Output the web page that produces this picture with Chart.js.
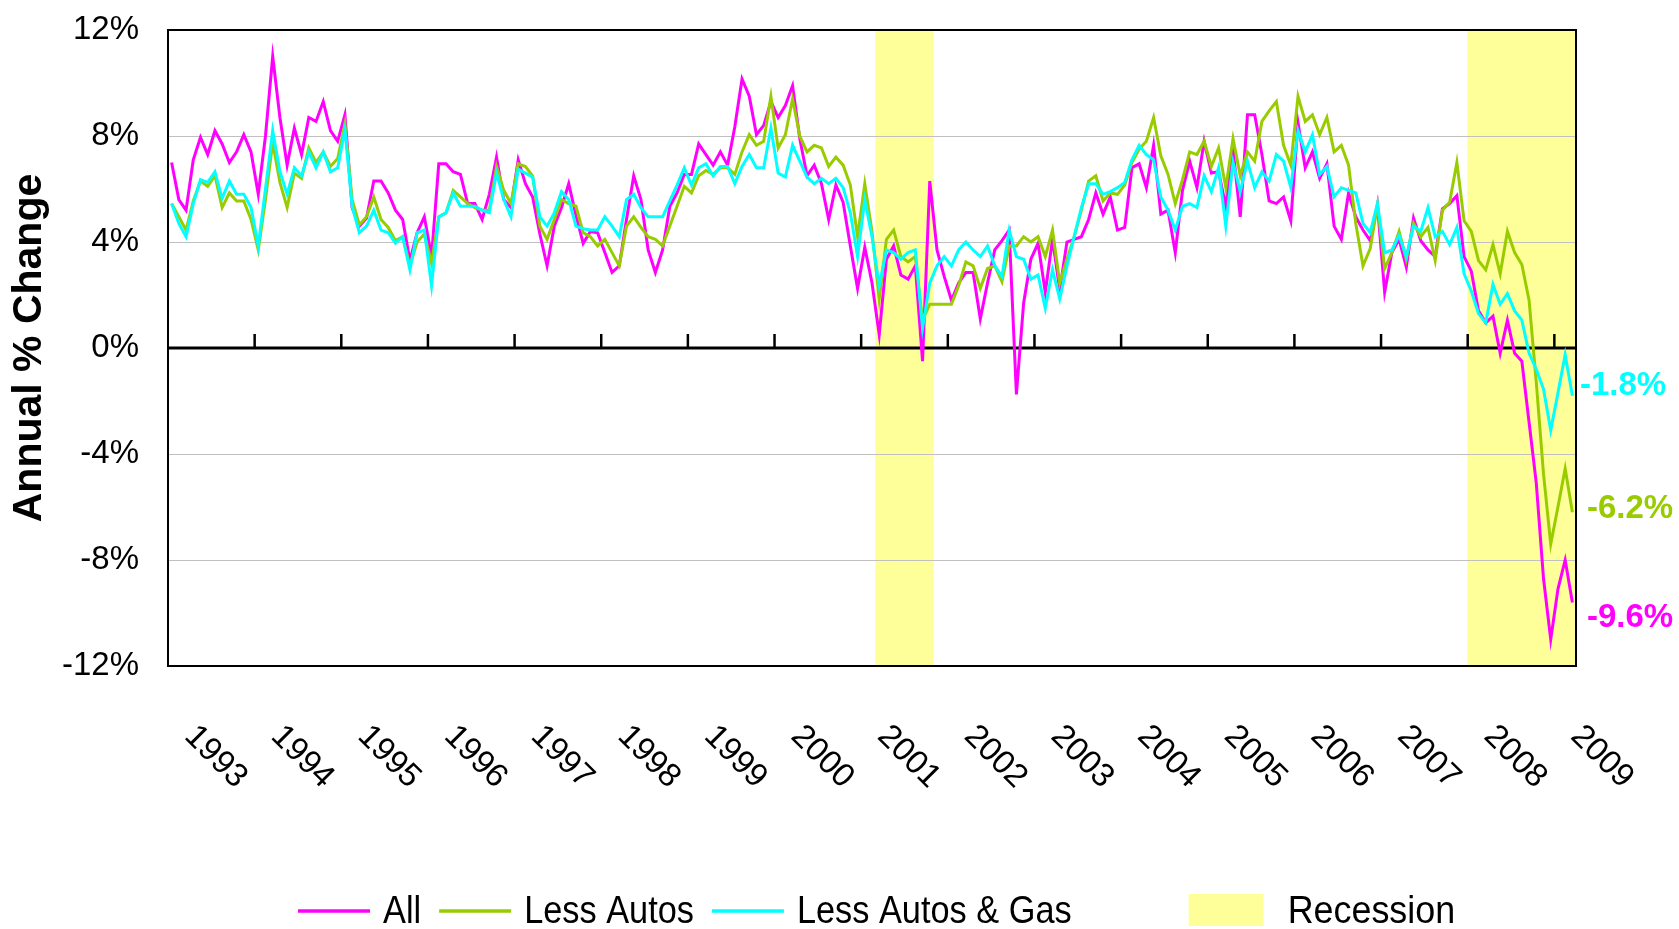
<!DOCTYPE html>
<html>
<head>
<meta charset="utf-8">
<script src="https://cdn.jsdelivr.net/npm/chart.js@4.4.1/dist/chart.umd.min.js"></script>
<style>
html, body { margin: 0; padding: 0; background: #fff; }
#caja { width: 1679px; height: 929px; position: relative; }
</style>
</head>
<body>
<div id="caja"><canvas id="graficaventas"></canvas></div>
<script>
// monthly categories, Jan 1993 .. Mar 2009
var months = [];
for (var i = 0; i < 195; i++) {
    var yr = 1993 + Math.floor(i / 12), mo = (i % 12) + 1;
    months.push(yr + '-' + (mo < 10 ? '0' : '') + mo);
}

var allSales = [
    7.0, 5.6, 5.2, 7.1, 7.95, 7.3, 8.2, 7.7, 7.0, 7.4, 8.05, 7.4,
    5.8, 8.0, 11.0, 8.7, 6.9, 8.3, 7.3, 8.7, 8.55, 9.3, 8.2, 7.8,
    8.8, 5.3, 4.6, 4.9, 6.3, 6.3, 5.85, 5.2, 4.85, 3.3, 4.35, 4.95,
    3.45, 6.95, 6.95, 6.65, 6.55, 5.45, 5.45, 4.85, 5.8, 7.2, 5.6, 5.3,
    7.1, 6.2, 5.7, 4.3, 3.1, 4.6, 5.3, 6.2, 5.0, 3.95, 4.4, 4.35,
    3.6, 2.85, 3.1, 4.85, 6.5, 5.6, 3.7, 2.85, 3.7, 5.35, 5.85, 6.55,
    6.55, 7.7, 7.3, 6.9, 7.4, 6.9, 8.35, 10.15, 9.5, 8.05, 8.4, 9.3,
    8.7, 9.15, 9.9, 7.9, 6.5, 6.9, 6.2, 4.85, 6.15, 5.5, 3.85, 2.25,
    3.8, 2.45, 0.5, 3.35, 3.85, 2.75, 2.6, 3.1, -0.5, 6.3, 3.7, 2.7,
    1.8, 2.45, 2.85, 2.85, 1.1, 2.45, 3.7, 4.05, 4.45, -1.75, 1.7, 3.35,
    3.95, 2.1, 4.1, 2.2, 4.0, 4.1, 4.2, 4.85, 5.85, 5.05, 5.7, 4.45,
    4.55, 6.8, 6.95, 6.05, 7.65, 5.05, 5.2, 3.6, 5.95, 7.05, 6.05, 7.8,
    6.6, 6.65, 5.35, 7.5, 4.95, 8.8, 8.8, 7.3, 5.55, 5.45, 5.7, 4.8,
    8.5, 6.8, 7.4, 6.4, 6.95, 4.6, 4.1, 5.85, 4.95, 4.45, 4.05, 5.4,
    2.1, 3.6, 4.1, 3.05, 4.9, 4.05, 3.7, 3.45, 5.25, 5.45, 5.75, 3.45,
    2.9, 1.4, 0.95, 1.2, -0.2, 1.05, -0.2, -0.5, -2.8, -5.1, -8.7, -11.0,
    -9.1, -8.0, -9.6
];

var lessAutos = [
    5.45, 4.95, 4.45, 5.55, 6.3, 6.1, 6.5, 5.3, 5.85, 5.55, 5.55, 4.85,
    3.7, 5.6, 7.75, 6.25, 5.3, 6.6, 6.4, 7.55, 7.0, 7.4, 6.85, 7.15,
    8.45, 5.6, 4.65, 4.95, 5.7, 4.85, 4.55, 4.05, 4.2, 3.1, 4.0, 4.3,
    3.2, 4.95, 5.1, 5.95, 5.7, 5.45, 5.3, 5.2, 5.2, 6.85, 5.95, 5.45,
    6.95, 6.85, 6.5, 4.6, 4.1, 4.85, 5.6, 5.45, 5.35, 4.35, 4.2, 3.85,
    4.1, 3.6, 3.1, 4.6, 4.95, 4.55, 4.2, 4.1, 3.85, 4.6, 5.35, 6.1,
    5.85, 6.5, 6.7, 6.55, 6.8, 6.8, 6.55, 7.4, 8.05, 7.65, 7.8, 9.5,
    7.55, 8.05, 9.4, 8.0, 7.4, 7.65, 7.55, 6.85, 7.2, 6.9, 6.15, 4.2,
    6.2, 4.4, 1.85, 4.1, 4.45, 3.45, 3.25, 3.45, 1.05, 1.65, 1.65, 1.65,
    1.65, 2.35, 3.25, 3.1, 2.25, 3.0, 3.1, 2.5, 3.85, 3.85, 4.2, 4.0,
    4.2, 3.45, 4.45, 2.45, 3.35, 4.2, 5.2, 6.3, 6.5, 5.55, 5.85, 5.8,
    6.15, 7.0, 7.5, 7.8, 8.7, 7.25, 6.55, 5.45, 6.35, 7.4, 7.3, 7.8,
    6.85, 7.55, 6.05, 7.9, 6.5, 7.4, 7.05, 8.55, 8.95, 9.3, 7.65, 6.9,
    9.5, 8.55, 8.8, 8.05, 8.7, 7.4, 7.65, 6.9, 4.7, 3.1, 3.75, 5.4,
    3.0, 3.6, 4.4, 3.35, 4.7, 4.2, 4.55, 3.3, 5.2, 5.5, 7.0, 4.8,
    4.4, 3.3, 2.95, 3.9, 2.8, 4.4, 3.6, 3.15, 1.8, -1.3, -4.75, -7.4,
    -6.0, -4.55, -6.2
];

var lessAutosGas = [
    5.45, 4.7, 4.2, 5.45, 6.35, 6.25, 6.65, 5.65, 6.3, 5.8, 5.8, 5.3,
    3.85, 6.0, 8.2, 6.65, 5.8, 6.8, 6.5, 7.4, 6.8, 7.4, 6.65, 6.8,
    8.25, 5.35, 4.35, 4.6, 5.2, 4.45, 4.35, 3.95, 4.2, 2.95, 4.35, 4.45,
    2.35, 4.95, 5.1, 5.85, 5.35, 5.35, 5.35, 5.2, 5.1, 6.6, 5.6, 4.95,
    6.75, 6.6, 6.45, 4.95, 4.6, 5.1, 5.9, 5.6, 4.6, 4.5, 4.45, 4.45,
    4.95, 4.6, 4.2, 5.6, 5.8, 5.3, 4.95, 4.95, 4.95, 5.55, 6.15, 6.8,
    6.15, 6.8, 6.95, 6.5, 6.85, 6.85, 6.2, 6.85, 7.3, 6.8, 6.8, 8.3,
    6.6, 6.45, 7.65, 7.05, 6.45, 6.2, 6.4, 6.2, 6.4, 6.05, 5.1, 3.45,
    5.6, 4.2, 2.35, 3.7, 3.6, 3.35, 3.6, 3.7, 0.75, 2.45, 3.1, 3.45,
    3.1, 3.7, 4.0, 3.7, 3.45, 3.85, 3.1, 2.7, 4.45, 3.45, 3.35, 2.6,
    2.75, 1.5, 2.95, 1.85, 3.1, 4.2, 5.3, 6.2, 6.2, 5.8, 5.9, 6.05,
    6.25, 7.1, 7.65, 7.3, 7.1, 5.7, 5.2, 4.45, 5.35, 5.45, 5.3, 6.5,
    5.9, 6.8, 4.6, 7.0, 5.9, 7.05, 6.05, 6.65, 6.3, 7.3, 7.05, 6.05,
    8.2, 7.4, 8.05, 6.55, 6.85, 5.7, 6.05, 5.95, 5.85, 4.7, 4.35, 5.45,
    3.6, 3.7, 4.25, 3.45, 4.6, 4.4, 5.3, 4.2, 4.4, 3.9, 4.55, 2.8,
    2.15, 1.3, 0.95, 2.4, 1.65, 2.05, 1.4, 1.05, -0.2, -0.8, -1.55, -3.1,
    -1.7, -0.25, -1.8
];

// shaded months (first, last)
var recessions = [['2001-03', '2001-10'], ['2008-01', '2009-03']];

var seriesNames = ['All', 'Less Autos', 'Less Autos & Gas', 'Recession'];
var seriesColors = ['#FF00FF', '#99CC00', '#00FFFF', '#FFFF99'];
var yTickStep = 4;

var recessionBars = months.map(function (m) {
    for (var r = 0; r < recessions.length; r++) {
        if (m >= recessions[r][0] && m <= recessions[r][1]) return [-12, 12];
    }
    return null;
});

var fuente = '"Liberation Sans", Arial, sans-serif';
Chart.defaults.font.family = fuente;
Chart.defaults.color = '#000';

var adornos = {
    id: 'adornos',
    // grid, zero line, ticks and frame go over the shading but under the lines
    afterDatasetDraw: function (chart, args) {
        if (args.index !== 3) return;
        var ctx = chart.ctx, a = chart.chartArea, x = chart.scales.x, y = chart.scales.y;
        ctx.save();
        ctx.strokeStyle = '#C0C0C0';
        ctx.lineWidth = 1;
        y.ticks.forEach(function (t) {
            if (t.value === 0 || Math.abs(t.value) === 12) return;
            var py = Math.round(y.getPixelForValue(t.value)) + 0.5;
            ctx.beginPath(); ctx.moveTo(a.left, py); ctx.lineTo(a.right, py); ctx.stroke();
        });
        var y0 = y.getPixelForValue(0);
        var paso = x.getPixelForValue(1) - x.getPixelForValue(0);
        ctx.strokeStyle = '#000';
        ctx.lineWidth = 3;
        ctx.beginPath(); ctx.moveTo(a.left, y0); ctx.lineTo(a.right, y0); ctx.stroke();
        ctx.lineWidth = 2.5;
        for (var i = 12; i < months.length; i += 12) {
            var px = x.getPixelForValue(i) - paso / 2;
            ctx.beginPath(); ctx.moveTo(px, y0); ctx.lineTo(px, y0 - 14); ctx.stroke();
        }
        ctx.lineWidth = 2;
        ctx.strokeRect(a.left, a.top, a.right - a.left, a.bottom - a.top);
        ctx.restore();
    },
    afterDraw: function (chart) {
        var ctx = chart.ctx, a = chart.chartArea, x = chart.scales.x, y = chart.scales.y;
        ctx.save();
        // year labels, slanted
        ctx.fillStyle = '#000';
        ctx.font = '33px ' + fuente;
        ctx.textAlign = 'left';
        ctx.textBaseline = 'middle';
        for (var i = 0; i < months.length; i += 12) {
            ctx.save();
            ctx.translate(x.getPixelForValue(i) + 18, a.bottom + 65);
            ctx.rotate(Math.PI / 4);
            ctx.fillText(months[i].slice(0, 4), 0, 0);
            ctx.restore();
        }
        // last-value labels at the right
        var dx = [11, 11, 4], dy = [16, -3, -10];
        ctx.font = 'bold 33px ' + fuente;
        for (var d = 0; d < 3; d++) {
            var serie = chart.data.datasets[d].data;
            var ult = serie[serie.length - 1];
            ctx.fillStyle = seriesColors[d];
            ctx.fillText(ult.toFixed(1) + '%', a.right + dx[d], y.getPixelForValue(ult) + dy[d]);
        }
        // legend
        var lx = 298, ly = 911;
        ctx.textBaseline = 'alphabetic';
        ctx.font = '39px ' + fuente;
        for (var k = 0; k < 3; k++) {
            ctx.strokeStyle = seriesColors[k];
            ctx.lineWidth = 3.5;
            ctx.beginPath(); ctx.moveTo(lx, ly); ctx.lineTo(lx + 72, ly); ctx.stroke();
            ctx.fillStyle = '#000';
            ctx.save();
            ctx.translate(lx + 85, 923);
            ctx.scale(0.88, 1);
            ctx.fillText(seriesNames[k], 0, 0);
            ctx.restore();
            lx += 85 + ctx.measureText(seriesNames[k]).width * 0.88 + 18;
        }
        lx += 99;
        ctx.fillStyle = seriesColors[3];
        ctx.fillRect(lx, 894, 75, 32);
        ctx.fillStyle = '#000';
        ctx.save();
        ctx.translate(lx + 99, 923);
        ctx.scale(0.92, 1);
        ctx.fillText(seriesNames[3], 0, 0);
        ctx.restore();
        ctx.restore();
    }
};

var ctx1 = document.getElementById('graficaventas').getContext('2d');
var chart = new Chart(ctx1, {
    type: 'line',
    data: {
        labels: months,
        datasets: [
            { label: seriesNames[0], data: allSales, borderColor: seriesColors[0], backgroundColor: seriesColors[0], borderWidth: 3, pointRadius: 0, order: 3 },
            { label: seriesNames[1], data: lessAutos, borderColor: seriesColors[1], backgroundColor: seriesColors[1], borderWidth: 3, pointRadius: 0, order: 2 },
            { label: seriesNames[2], data: lessAutosGas, borderColor: seriesColors[2], backgroundColor: seriesColors[2], borderWidth: 3, pointRadius: 0, order: 1 },
            { type: 'bar', label: seriesNames[3], data: recessionBars, backgroundColor: seriesColors[3], borderWidth: 0, barPercentage: 1, categoryPercentage: 1, order: 4 }
        ]
    },
    options: {
        responsive: true,
        maintainAspectRatio: false,
        animation: false,
        layout: { padding: { top: 30, right: 103, bottom: 263, left: 0 } },
        plugins: { legend: { display: false }, tooltip: { enabled: false } },
        scales: {
            x: { display: false, offset: true },
            y: {
                min: -12,
                max: 12,
                ticks: {
                    stepSize: yTickStep,
                    padding: 29,
                    color: '#000',
                    font: { size: 33 },
                    callback: function (v) { return v + '%'; }
                },
                grid: { display: false, drawTicks: false },
                border: { display: false },
                title: {
                    display: true,
                    text: 'Annual % Change',
                    color: '#000',
                    font: { size: 41, weight: 'bold' },
                    padding: { top: 5, bottom: 0 }
                },
                afterFit: function (s) {
                    s.width = 168;
                    // the label gap is horizontal only
                    s.paddingTop = 10;
                    s.paddingBottom = 10;
                }
            }
        }
    },
    plugins: [adornos]
});
</script>
</body>
</html>
